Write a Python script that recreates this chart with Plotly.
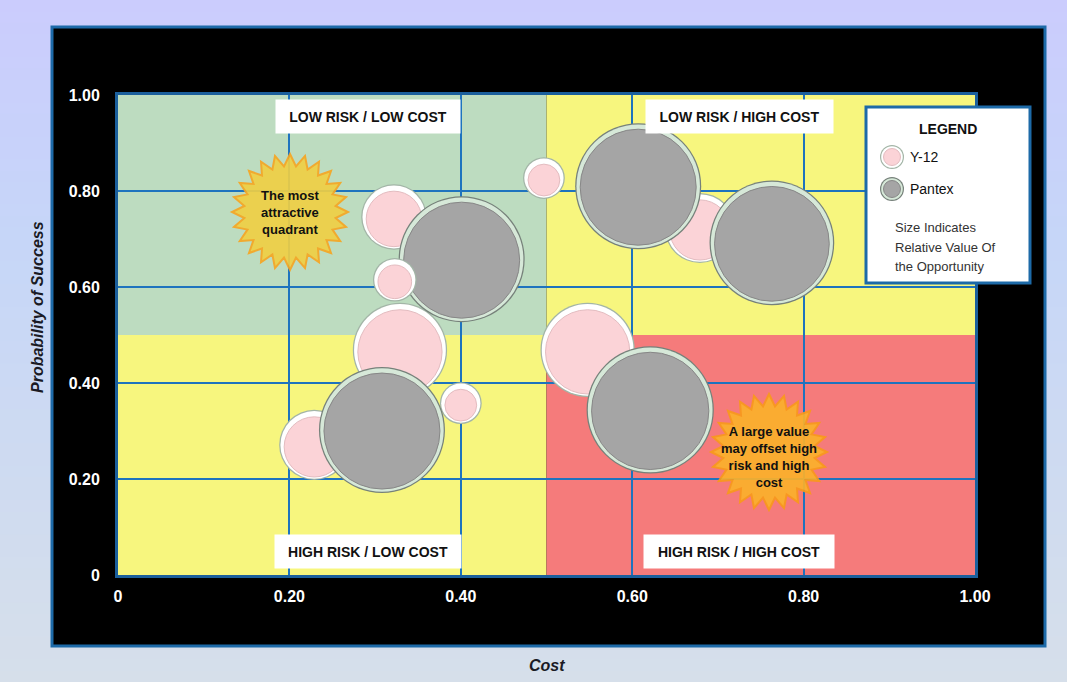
import numpy as np
import plotly.graph_objects as go

# ---------------- data ----------------
pink_cost = [0.229, 0.322, 0.323, 0.329, 0.400, 0.497, 0.548, 0.679]
pink_prob = [0.271, 0.746, 0.615, 0.469, 0.358, 0.827, 0.469, 0.723]
pink_value = [31, 27, 12, 56, 11, 11, 56, 31]

gray_cost = [0.401, 0.308, 0.607, 0.763, 0.621]
gray_prob = [0.658, 0.302, 0.810, 0.692, 0.344]
gray_value = [100, 100, 100, 98, 102]

tick_vals = [0, 0.2, 0.4, 0.6, 0.8, 1.0]
tick_text = ["0", "0.20", "0.40", "0.60", "0.80", "1.00"]

quadrant_labels = ["LOW RISK / LOW COST", "LOW RISK / HIGH COST",
                   "HIGH RISK / LOW COST", "HIGH RISK / HIGH COST"]
star_texts = ["The most<br>attractive<br>quadrant",
              "A large value<br>may offset high<br>risk and high<br>cost"]
legend_note = ["Size Indicates", "Relative Value Of", "the Opportunity"]

# ---------------- geometry / style ----------------
W, H = 1067, 682
ML, MR, MT, MB = 118, 92, 95, 107
PW = W - ML - MR
PH = H - MT - MB
FN = "Liberation Sans, Arial, sans-serif"
PINK_ON_TOP = [2]
MAX_D = 126.0


def px_x(p):
    return (p - ML) / PW


def px_y(p):
    return (H - MB - p) / PH


def diam(values):
    return [MAX_D * np.sqrt(v / 100.0) for v in values]


shapes = []

# background gradient
stops = [(0.0, (203, 204, 253)), (0.35, (198, 214, 248)), (1.0, (214, 223, 234))]


def grad(t):
    for (a, ca), (b, cb) in zip(stops[:-1], stops[1:]):
        if a <= t <= b:
            f = (t - a) / (b - a)
            return tuple(int(round(ca[i] + (cb[i] - ca[i]) * f)) for i in range(3))
    return stops[-1][1]


N = 60
for i in range(N):
    y0p = H * i / N
    y1p = H * (i + 1) / N + 1
    c = grad((i + 0.5) / N)
    shapes.append(dict(type="rect", xref="paper", yref="paper", layer="below",
                       x0=px_x(-2), x1=px_x(W + 2), y0=px_y(y1p), y1=px_y(y0p),
                       fillcolor="rgb(%d,%d,%d)" % c, line=dict(width=0)))

# black panel
shapes.append(dict(type="rect", xref="paper", yref="paper", layer="below",
                   x0=px_x(52), x1=px_x(1045), y0=px_y(646), y1=px_y(27),
                   fillcolor="black", line=dict(color="#1d6aa8", width=3)))

# quadrants
quads = [(0, 0.5, 0.5, 1, "#bddcc0"), (0.5, 0.5, 1, 1, "#f7f67e"),
         (0, 0, 0.5, 0.5, "#f7f67e"), (0.5, 0, 1, 0.5, "#f57b7b")]
for x0, y0, x1, y1, col in quads:
    shapes.append(dict(type="rect", xref="x", yref="y", layer="below",
                       x0=x0, y0=y0, x1=x1, y1=y1, fillcolor=col, line=dict(width=0)))


# starbursts
def star_path(cx_px, cy_px, r_out, r_in, n):
    pts = []
    for k in range(2 * n):
        a = np.pi * k / n - np.pi / 2
        r = r_out if k % 2 == 0 else r_in
        pts.append((px_x(cx_px + r * np.cos(a)), px_y(cy_px + r * np.sin(a))))
    return "M " + " L ".join("%.5f,%.5f" % p for p in pts) + " Z"


star_specs = [((290, 212), "#efcf45", "#f6a623"), ((769, 452), "#fbb12b", "#f99a1b")]
for (cx, cy), fill, edge in star_specs:
    shapes.append(dict(type="path", xref="x", yref="y", layer="above",
                       path=star_path(cx, cy, 58, 46, 24), fillcolor=fill,
                       opacity=0.92, line=dict(color=edge, width=2)))

# legend box
shapes.append(dict(type="rect", xref="paper", yref="paper", layer="above",
                   x0=px_x(866), x1=px_x(1030), y0=px_y(283), y1=px_y(107),
                   fillcolor="white", line=dict(color="#1d6aa8", width=3)))

PINK = dict(edge="#a3b5a7", rim="#ffffff", fill="#fbd3d7", inner="#e3bcc0")
GRAY = dict(edge="#76817a", rim="#d6e8d8", fill="#a5a5a5", inner="#878787")


def icon(cx, cy, r, st):
    out = []
    for rr, col, lw, lc in [(r, st["edge"], 0, None), (r - 1.2, st["rim"], 0, None),
                            (r - 3.5, st["fill"], 1, st["inner"])]:
        out.append(dict(type="circle", xref="paper", yref="paper", layer="above",
                        x0=px_x(cx - rr), x1=px_x(cx + rr), y0=px_y(cy + rr), y1=px_y(cy - rr),
                        fillcolor=col, line=dict(width=lw, color=lc or col)))
    return out


shapes += icon(892, 157, 12, PINK)
shapes += icon(892, 189, 12, GRAY)

# ---------------- traces ----------------
fig = go.Figure()


def add_bubbles(xs, ys, vals, st, name, dy_px=0.0):
    d = diam(vals)
    fig.add_trace(go.Scatter(x=xs, y=ys, mode="markers", hoverinfo="skip", showlegend=False,
                             marker=dict(size=d, sizemode="diameter", color=st["edge"],
                                         opacity=1, line=dict(width=0))))
    fig.add_trace(go.Scatter(x=xs, y=ys, mode="markers", hoverinfo="skip", showlegend=False,
                             marker=dict(size=[v - 2.5 for v in d], color=st["rim"],
                                         opacity=1, line=dict(width=0))))
    fig.add_trace(go.Scatter(x=xs, y=[y - dy_px / PH for y in ys], mode="markers", name=name,
                             showlegend=False, customdata=vals,
                             hovertemplate=name + "<br>Cost %{x:.2f}<br>Probability %{y:.2f}"
                                           "<br>Value %{customdata}<extra></extra>",
                             marker=dict(size=[v - 10 for v in d], color=st["fill"],
                                         opacity=1, line=dict(width=1, color=st["inner"]))))


back = [i for i in range(len(pink_cost)) if i not in PINK_ON_TOP]
front = PINK_ON_TOP
add_bubbles([pink_cost[i] for i in back], [pink_prob[i] for i in back],
            [pink_value[i] for i in back], PINK, "Y-12", dy_px=2)
add_bubbles(gray_cost, gray_prob, gray_value, GRAY, "Pantex", dy_px=1)
add_bubbles([pink_cost[i] for i in front], [pink_prob[i] for i in front],
            [pink_value[i] for i in front], PINK, "Y-12", dy_px=2)

# ---------------- annotations ----------------
ann = []


def note(x, y, text, size, ref="paper", color="#111111", **kw):
    d = dict(x=x, y=y, xref=ref, yref=ref, showarrow=False, text=text,
             xanchor="center", yanchor="middle",
             font=dict(family=FN, size=size, color=color))
    d.update(kw)
    ann.append(d)


label_specs = [((368, 116.5), 172), ((739.5, 117), 175), ((368, 551), 174), ((739, 551), 178)]
for txt, ((cx, cy), w) in zip(quadrant_labels, label_specs):
    note(px_x(cx), px_y(cy), "<b>%s</b>" % txt, 14, ref="paper",
         bgcolor="white", width=w, height=21, borderpad=6, align="center")

note(px_x(290), px_y(212), "<b>%s</b>" % star_texts[0], 13, align="center")
note(px_x(769), px_y(457), "<b>%s</b>" % star_texts[1], 13, align="center")

# legend texts
note(px_x(948), px_y(129), "<b>LEGEND</b>", 14)
for txt, yy in [("Y-12", 157), ("Pantex", 189)]:
    note(px_x(908), px_y(yy), txt, 14, xanchor="left")
for txt, yy in zip(legend_note, [227, 247, 266]):
    note(px_x(893), px_y(yy), txt, 13, color="#333333", xanchor="left")

# axis titles
note(px_x(37), px_y(307), "<b><i>Probability of Success</i></b>", 16, color="#1a1a24",
     textangle=-90)
note(px_x(547), px_y(665), "<b><i>Cost</i></b>", 16, color="#1a1a24")

axis_common = dict(range=[0, 1], tickvals=tick_vals,
                   ticktext=["<b>%s</b>" % t for t in tick_text], showgrid=True,
                   gridcolor="#1e73be", gridwidth=1.5, zeroline=False, showline=True,
                   mirror=True, linecolor="#1b5f9c", linewidth=3, ticks="",
                   tickfont=dict(family=FN, size=16, color="white"), fixedrange=True)

fig.update_layout(
    width=W, height=H, margin=dict(l=ML, r=MR, t=MT, b=MB, pad=0),
    paper_bgcolor="#c9d6f2", plot_bgcolor="black",
    xaxis=dict(axis_common, ticklabelstandoff=5),
    yaxis=dict(axis_common, ticklabelstandoff=12),
    shapes=shapes, annotations=ann, showlegend=False,
    font=dict(family=FN),
)

fig.write_html("out.html")
